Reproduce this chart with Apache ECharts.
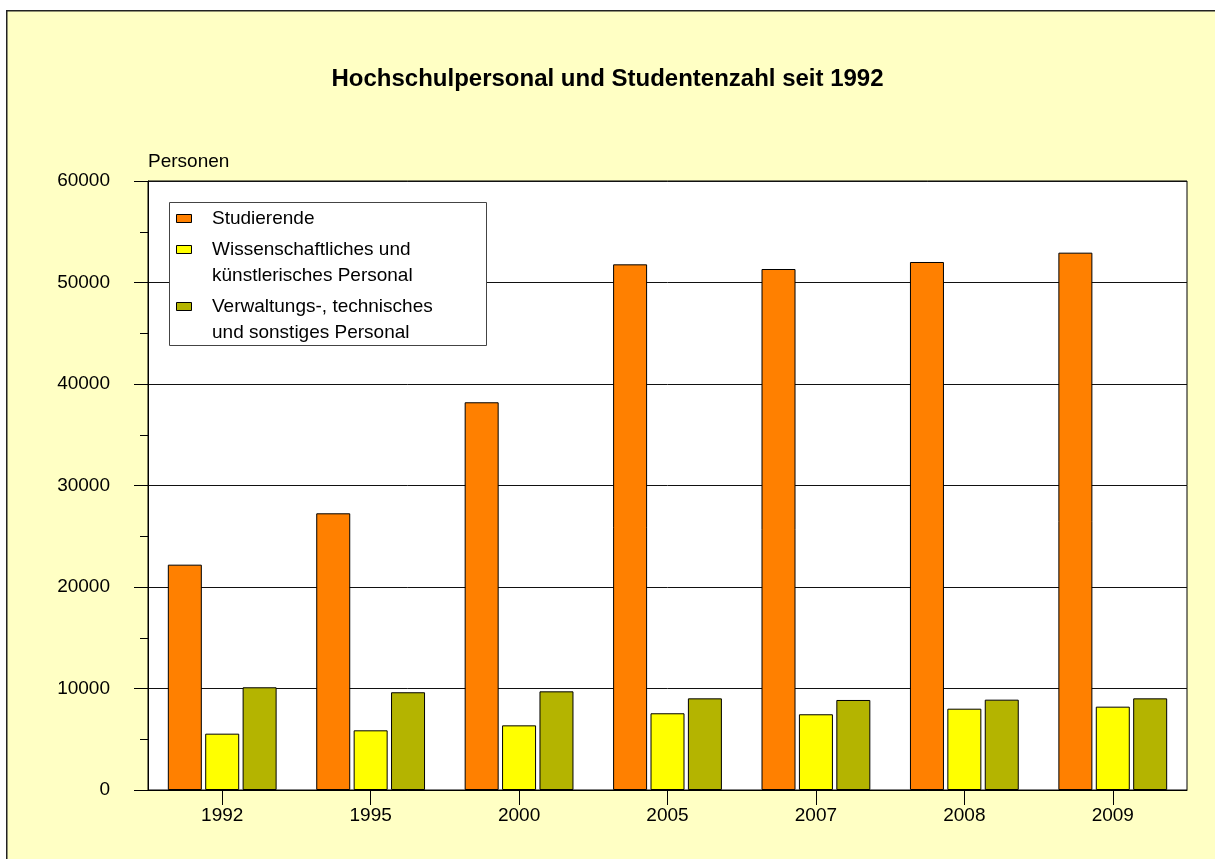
<!DOCTYPE html>
<html>
<head>
<meta charset="utf-8">
<title>Hochschulpersonal und Studentenzahl seit 1992</title>
<script src="https://cdn.jsdelivr.net/npm/echarts@6/dist/echarts.min.js"></script>
<style>
  html, body { margin: 0; padding: 0; background: #ffffff; }
  #chart { width: 1215px; height: 859px; }
</style>
</head>
<body>
<div id="chart"></div>
<script>
// Daten
const years = ['1992', '1995', '2000', '2005', '2007', '2008', '2009'];
const seriesNames = [
    'Studierende',
    'Wissenschaftliches und\nkünstlerisches Personal',
    'Verwaltungs-, technisches\nund sonstiges Personal'
];
const studierende = [22200, 27260, 38200, 51790, 51330, 52020, 52940];
const wissPersonal = [5550, 5880, 6370, 7560, 7460, 8010, 8210];
const verwPersonal = [10120, 9630, 9720, 9030, 8870, 8900, 9030];
const seriesColors = ['#FF8000', '#FFFF00', '#B4B400'];

const FONT = '"Liberation Sans", Arial, sans-serif';

const chart = echarts.init(document.getElementById('chart'));

// Legende als Grafik, damit das Kästchen an der ersten Zeile steht
function buildLegend() {
    const items = [];
    const lineY = [219, 250, 307];
    items.push({
        type: 'rect', left: 169, top: 202,
        shape: { width: 317, height: 143 },
        style: { fill: '#ffffff', stroke: '#444444', lineWidth: 1 },
        z: 10
    });
    seriesNames.forEach((name, i) => {
        items.push({
            type: 'rect', left: 176, top: lineY[i] - 5,
            shape: { width: 15, height: 8 },
            style: { fill: seriesColors[i], stroke: '#000000', lineWidth: 1 },
            z: 11
        });
        items.push({
            type: 'text', left: 212, top: lineY[i] - 13,
            style: {
                text: name, fill: '#000000', font: '19px ' + FONT,
                lineHeight: 26
            },
            z: 11
        });
    });
    return items;
}

const dataSets = [studierende, wissPersonal, verwPersonal];

const option = {
    backgroundColor: '#ffffff',
    animation: false,
    textStyle: { fontFamily: FONT },
    title: {
        text: 'Hochschulpersonal und Studentenzahl seit 1992',
        left: 'center', top: 62,
        textStyle: { fontSize: 24, fontWeight: 'bold', color: '#000000', fontFamily: FONT }
    },
    graphic: [
        {
            type: 'rect', left: 6, top: 10,
            shape: { width: 1240, height: 880 },
            style: { fill: '#FFFFC4', stroke: '#222222', lineWidth: 1.5 },
            z: -10
        }
    ].concat(buildLegend()),
    grid: {
        left: 148, right: 28, top: 181, bottom: 69,
        show: true, backgroundColor: '#ffffff',
        borderColor: '#000000', borderWidth: 1
    },
    xAxis: {
        type: 'category',
        data: years,
        axisLine: { show: true, lineStyle: { color: '#000000', width: 1 } },
        axisTick: { show: true, alignWithLabel: true, length: 15, lineStyle: { color: '#000000' } },
        axisLabel: { margin: 16, fontSize: 19, color: '#000000', fontFamily: FONT },
        splitLine: { show: false }
    },
    yAxis: {
        type: 'value',
        min: 0, max: 60000, interval: 10000,
        name: 'Personen',
        nameLocation: 'end',
        nameGap: 10,
        nameTextStyle: { align: 'left', fontSize: 19, color: '#000000', fontFamily: FONT },
        axisLine: { show: true, lineStyle: { color: '#000000', width: 1 } },
        axisTick: { show: true, length: 14, lineStyle: { color: '#000000' } },
        minorTick: { show: true, splitNumber: 2, length: 8, lineStyle: { color: '#000000' } },
        axisLabel: {
            margin: 38, fontSize: 19, color: '#000000', fontFamily: FONT,
            formatter: v => String(v)
        },
        splitLine: { show: true, lineStyle: { color: '#111111', width: 1 } }
    },
    series: seriesNames.map((name, i) => ({
        name: name.replace('\n', ' '),
        type: 'bar',
        data: dataSets[i],
        barWidth: 34,
        barGap: '10%',
        itemStyle: { color: seriesColors[i], borderColor: '#000000', borderWidth: 1 }
    }))
};

chart.setOption(option);
</script>
</body>
</html>
